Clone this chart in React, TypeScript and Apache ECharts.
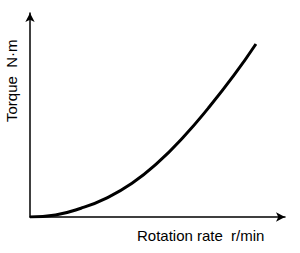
import React, { useEffect, useRef } from "react";
import * as echarts from "echarts";

const speed = [0, 10, 20, 30, 40, 50, 60, 70, 80, 88.6];
const torque = [0, 1, 4.3, 9.3, 16.5, 26.5, 39, 53.5, 69.5, 84.8];
const xLabel = "Rotation rate";
const xUnit = "r/min";
const yLabel = "Torque  N·m";

export default function App() {
  const ref = useRef<HTMLDivElement>(null);
  useEffect(() => {
    document.body.style.margin = "0";
    if (!ref.current) return;
    const chart = echarts.init(ref.current, null, { renderer: "svg" });
    const font = "'Liberation Sans', Arial, sans-serif";
    chart.setOption({
      animation: false,
      backgroundColor: "#ffffff",
      grid: { left: 30, right: 15, top: 13, bottom: 36 },
      xAxis: {
        type: "value",
        min: 0,
        max: 100,
        axisLine: {
          onZero: false,
          lineStyle: { color: "#000", width: 1.5 },
          symbol: ["none", "arrow"],
          symbolSize: [7, 9],
        },
        axisTick: { show: false },
        axisLabel: { show: false },
        splitLine: { show: false },
      },
      yAxis: {
        type: "value",
        min: 0,
        max: 100,
        axisLine: {
          show: true,
          onZero: false,
          lineStyle: { color: "#000", width: 1.5 },
          symbol: ["none", "arrow"],
          symbolSize: [7, 9],
        },
        axisTick: { show: false },
        axisLabel: { show: false },
        splitLine: { show: false },
      },
      series: [
        {
          type: "line",
          data: speed.map((s, i) => [s, torque[i]]),
          smooth: 0.5,
          showSymbol: false,
          lineStyle: { color: "#000", width: 3 },
        },
      ],
      graphic: [
        {
          type: "text",
          left: 137,
          top: 228,
          style: { text: xLabel, font: `15px ${font}`, fill: "#000" },
        },
        {
          type: "text",
          left: 231,
          top: 228,
          style: { text: xUnit, font: `15px ${font}`, fill: "#000", letterSpacing: 2 } as any,
        },
        {
          type: "text",
          x: 4,
          y: 122,
          rotation: Math.PI / 2,
          style: { text: yLabel, font: `15px ${font}`, fill: "#000" },
        },
      ],
    });
    return () => chart.dispose();
  }, []);
  return <div ref={ref} style={{ width: 300, height: 253 }} />;
}
